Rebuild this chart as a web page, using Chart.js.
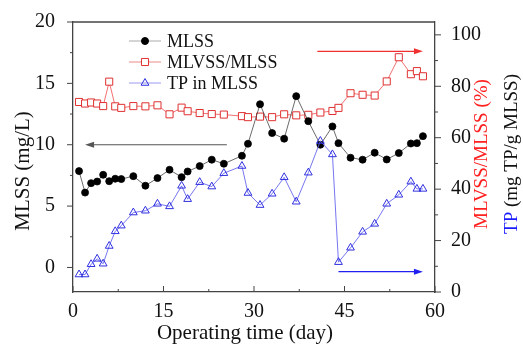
<!DOCTYPE html>
<html>
<head>
<meta charset="utf-8">
<script src="https://cdn.jsdelivr.net/npm/chart.js@4.4.0/dist/chart.umd.min.js"></script>
<style>
html, body { margin: 0; padding: 0; background: #fff; }
</style>
</head>
<body>
<canvas id="chart1" width="523" height="346"></canvas>
<script>
// values
var days = [1, 2, 3, 4, 5, 6, 7, 8, 10, 12, 14, 16, 18, 19, 21, 23, 25, 28, 29, 31, 33, 35, 37, 39, 41, 43, 44, 46, 48, 50, 52, 54, 56, 57, 58];
var mlss = [7.85, 6.1, 6.87, 7.0, 7.55, 7.03, 7.23, 7.2, 7.44, 6.66, 7.28, 7.96, 7.36, 7.82, 8.26, 8.78, 8.45, 9.1, 10.08, 13.3, 10.95, 10.49, 13.96, 11.92, 10.0, 11.49, 10.13, 8.94, 8.78, 9.35, 8.8, 9.32, 10.1, 10.13, 10.7];
var mlvss = [73.9, 73.3, 73.7, 73.3, 72.3, 81.8, 72.2, 71.6, 72.3, 72.2, 72.6, 69.1, 71.7, 70.3, 69.6, 69.2, 69.0, 68.4, 68.0, 68.2, 68.0, 69.1, 68.7, 68.9, 69.8, 70.4, 71.6, 77.3, 76.7, 76.4, 81.9, 91.3, 84.7, 85.9, 83.9];
var tp = [6.8, 6.8, 10.8, 12.9, 11.0, 17.9, 23.6, 25.8, 30.9, 31.6, 34.3, 33.3, 41.3, 36.1, 42.7, 41.0, 46.2, 49.0, 38.5, 33.8, 38.2, 44.6, 35.1, 46.4, 58.7, 53.5, 11.6, 17.2, 23.4, 26.5, 34.3, 37.8, 42.9, 40.1, 40.1];

var xTicks = [0, 15, 30, 45, 60];
var xMinor = [7.5, 22.5, 37.5, 52.5];
var leftTicks = [0, 5, 10, 15, 20];
var leftMinor = [2.5, 7.5, 12.5, 17.5];
var rightTicks = [0, 20, 40, 60, 80, 100];
var rightMinor = [10, 30, 50, 70, 90];

// arrows, in data units
var arrowAxis = ['y', 'y1', 'y1'];
var arrowFrom = [25.5, 40.5, 44];
var arrowTo = [2, 58, 58];
var arrowLevel = [10, 93.6, 7.9];
var arrowColor = ['#555555', '#f03030', '#2020f0'];

var serif = "'Liberation Serif', 'Times New Roman', serif";

function pts(vals) {
	return days.map(function(d, i) { return {x: d, y: vals[i]}; });
}

var decor = {
	id: 'decor',
	afterDraw: function(chart) {
		var ctx = chart.ctx;
		var a = chart.chartArea;
		var sx = chart.scales.x, sy = chart.scales.y, sy1 = chart.scales.y1;
		ctx.save();

		// top frame line
		ctx.strokeStyle = '#444';
		ctx.lineWidth = 1.3;
		ctx.beginPath();
		ctx.moveTo(a.left, a.top);
		ctx.lineTo(a.right, a.top);
		ctx.stroke();

		// tick marks
		ctx.lineWidth = 1;
		ctx.beginPath();
		leftTicks.forEach(function(v) { var p = sy.getPixelForValue(v); ctx.moveTo(a.left - 6, p); ctx.lineTo(a.left, p); });
		leftMinor.forEach(function(v) { var p = sy.getPixelForValue(v); ctx.moveTo(a.left - 3, p); ctx.lineTo(a.left, p); });
		rightTicks.forEach(function(v) { var p = sy1.getPixelForValue(v); ctx.moveTo(a.right, p); ctx.lineTo(a.right + 6, p); });
		rightMinor.forEach(function(v) { var p = sy1.getPixelForValue(v); ctx.moveTo(a.right, p); ctx.lineTo(a.right + 3, p); });
		xTicks.forEach(function(v) { var p = sx.getPixelForValue(v); ctx.moveTo(p, a.bottom); ctx.lineTo(p, a.bottom - 6); });
		xMinor.forEach(function(v) { var p = sx.getPixelForValue(v); ctx.moveTo(p, a.bottom); ctx.lineTo(p, a.bottom - 3); });
		ctx.stroke();

		// arrows
		for (var i = 0; i < arrowFrom.length; i++) {
			var sc = chart.scales[arrowAxis[i]];
			var x0 = sx.getPixelForValue(arrowFrom[i]);
			var x1 = sx.getPixelForValue(arrowTo[i]);
			var y = sc.getPixelForValue(arrowLevel[i]);
			var dir = x1 > x0 ? 1 : -1;
			ctx.strokeStyle = arrowColor[i];
			ctx.fillStyle = arrowColor[i];
			ctx.lineWidth = 1.2;
			ctx.beginPath();
			ctx.moveTo(x0, y);
			ctx.lineTo(x1 - dir * 6, y);
			ctx.stroke();
			ctx.beginPath();
			ctx.moveTo(x1, y);
			ctx.lineTo(x1 - dir * 9, y - 3);
			ctx.lineTo(x1 - dir * 9, y + 3);
			ctx.closePath();
			ctx.fill();
		}

		// legend
		var legColors = ['#aaaaaa', '#ee8888', '#9999ee'];
		ctx.font = '18px ' + serif;
		ctx.textBaseline = 'middle';
		ctx.textAlign = 'left';
		chart.data.datasets.forEach(function(ds, k) {
			var ly = 41 + k * 21;
			ctx.strokeStyle = legColors[k];
			ctx.lineWidth = 1;
			ctx.beginPath();
			ctx.moveTo(129, ly);
			ctx.lineTo(161, ly);
			ctx.stroke();
			ctx.fillStyle = ds.pointBackgroundColor;
			ctx.strokeStyle = ds.pointBorderColor;
			Chart.helpers.drawPoint(ctx, {pointStyle: ds.pointStyle, radius: ds.pointRadius, borderWidth: 1, rotation: 0}, 145, ly);
			ctx.fillStyle = '#111';
			ctx.fillText(ds.label, 167, ly + 1);
		});

		// axis titles
		ctx.fillStyle = '#111';
		ctx.font = '21px ' + serif;
		ctx.textAlign = 'center';
		ctx.textBaseline = 'alphabetic';
		ctx.fillText('Operating time (day)', 245, 339);

		ctx.textBaseline = 'middle';
		ctx.save();
		ctx.translate(23, 171);
		ctx.rotate(-Math.PI / 2);
		ctx.fillText('MLSS (mg/L)', 0, 0);
		ctx.restore();

		ctx.save();
		ctx.translate(482, 154);
		ctx.rotate(-Math.PI / 2);
		ctx.font = '19px ' + serif;
		ctx.fillStyle = '#ff2020';
		ctx.fillText('MLVSS/MLSS (%)', 0, 0);
		ctx.restore();

		ctx.save();
		ctx.translate(512, 154);
		ctx.rotate(-Math.PI / 2);
		ctx.font = '19px ' + serif;
		var t1 = 'TP', t2 = ' (mg TP/g MLSS)';
		var w1 = ctx.measureText(t1).width, w2 = ctx.measureText(t2).width;
		var start = -(w1 + w2) / 2;
		ctx.textAlign = 'left';
		ctx.fillStyle = '#1a1aff';
		ctx.fillText(t1, start, 0);
		ctx.fillStyle = '#111';
		ctx.fillText(t2, start + w1, 0);
		ctx.restore();

		ctx.restore();
	}
};

new Chart(document.getElementById('chart1'), {
	type: 'line',
	data: {
		datasets: [
			{
				label: 'MLSS',
				data: pts(mlss),
				yAxisID: 'y',
				borderColor: '#444444',
				borderWidth: 0.8,
				pointStyle: 'circle',
				pointRadius: 3.5,
				pointBackgroundColor: '#000000',
				pointBorderColor: '#000000',
				order: 1
			},
			{
				label: 'MLVSS/MLSS',
				data: pts(mlvss),
				yAxisID: 'y1',
				borderColor: '#f06060',
				borderWidth: 0.9,
				pointStyle: 'rect',
				pointRadius: 5,
				pointBorderWidth: 1,
				pointBackgroundColor: '#ffffff',
				pointBorderColor: '#e03030',
				order: 2
			},
			{
				label: 'TP in MLSS',
				data: pts(tp),
				yAxisID: 'y1',
				borderColor: '#6666f0',
				borderWidth: 0.9,
				pointStyle: 'triangle',
				pointRadius: 4.5,
				pointBorderWidth: 1,
				pointBackgroundColor: 'rgba(255,255,255,0)',
				pointBorderColor: '#3030e0',
				order: 0
			}
		]
	},
	options: {
		responsive: false,
		animation: false,
		devicePixelRatio: 1,
		layout: { padding: { top: 22, left: 0, right: 0, bottom: 0 } },
		plugins: { legend: { display: false }, tooltip: { enabled: false } },
		elements: { line: { tension: 0 } },
		scales: {
			x: {
				type: 'linear',
				min: 0,
				max: 60,
				afterBuildTicks: function(s) { s.ticks = xTicks.map(function(v) { return {value: v}; }); },
				afterFit: function(s) { s.height = 54; },
				ticks: { color: '#111', font: { family: serif, size: 20 }, padding: 0, maxRotation: 0 },
				grid: { display: false },
				border: { display: true, color: '#444', width: 1.3 }
			},
			y: {
				position: 'left',
				min: -2,
				max: 20,
				afterBuildTicks: function(s) { s.ticks = leftTicks.map(function(v) { return {value: v}; }); },
				afterFit: function(s) { s.width = 73; },
				ticks: { color: '#111', font: { family: serif, size: 20 }, padding: 10 },
				grid: { display: false },
				border: { display: true, color: '#444', width: 1.3 }
			},
			y1: {
				position: 'right',
				min: 0,
				max: 105,
				afterBuildTicks: function(s) { s.ticks = rightTicks.map(function(v) { return {value: v}; }); },
				afterFit: function(s) { s.width = 88; },
				ticks: { color: '#111', font: { family: serif, size: 20 }, padding: 8 },
				grid: { display: false },
				border: { display: true, color: '#444', width: 1.3 }
			}
		}
	},
	plugins: [decor]
});
</script>
</body>
</html>
